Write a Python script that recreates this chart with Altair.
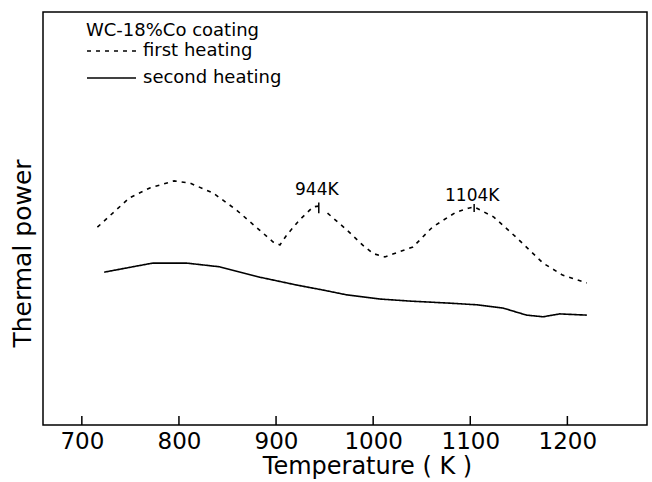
import altair as alt
import pandas as pd

# ---- data ----
first_T = [716, 749, 770, 795, 811, 835, 859, 883, 897, 904, 911, 924, 938, 944,
           953, 973, 989, 1000, 1012, 1041, 1061, 1085, 1098, 1104, 1124, 1148, 1175, 1195, 1220]
first_v = [47.9, 55.0, 57.4, 59.1, 58.6, 56.2, 52.1, 47.2, 44.3, 43.6, 46.0, 49.6, 52.8, 53.0,
           51.3, 47.2, 43.6, 41.5, 40.7, 43.1, 47.9, 51.5, 52.5, 52.8, 50.4, 45.3, 39.2, 36.3, 34.4]
first_seg = ["a"] * 14 + ["b"] * 15

second_T = [723, 750, 773, 808, 842, 883, 921, 950, 973, 1007, 1038, 1079, 1107, 1134, 1158, 1175, 1192, 1220]
second_v = [37.0, 38.2, 39.2, 39.2, 38.3, 35.8, 33.9, 32.6, 31.5, 30.5, 30.0, 29.5, 29.1, 28.3, 26.6, 26.2, 26.9, 26.6]

series_names = ["first heating", "second heating"]
tick_values = [700, 800, 900, 1000, 1100, 1200]

peak_T = [944, 1104]
peak_lo = [51.3, 51.6]
peak_hi = [53.9, 53.5]
peak_labels = ["944K", "1104K"]
label_T = [942, 1102]
label_v = [56.9, 55.4]

FONT = "DejaVu Sans"

lines_df = pd.DataFrame({
    "T": first_T + second_T,
    "v": first_v + second_v,
    "series": [series_names[0]] * len(first_T) + [series_names[1]] * len(second_T),
    "seg": first_seg + ["c"] * len(second_T),
})
peaks_df = pd.DataFrame({"T": peak_T, "lo": peak_lo, "hi": peak_hi,
                         "label": peak_labels, "lT": label_T, "lv": label_v})
ticks_df = pd.DataFrame({"T": tick_values})

H = 413
x_scale = alt.Scale(domain=[660, 1282], nice=False, zero=False)
y_scale = alt.Scale(domain=[0, 100], nice=False, zero=False)

x_enc = alt.X("T:Q", scale=x_scale, axis=alt.Axis(
    values=tick_values, ticks=False, domain=False, grid=False, format="d",
    labelFontSize=23, labelFont=FONT, labelColor="black", labelPadding=5,
    title="Temperature ( K )", titleFont=FONT, titleFontSize=24, titleFontWeight="normal",
    titleColor="black", titleX=324, titleY=48, titleBaseline="alphabetic"))
y_enc = alt.Y("v:Q", scale=y_scale, axis=alt.Axis(
    labels=False, ticks=False, domain=False, grid=False,
    title="Thermal power", titleFont=FONT, titleFontSize=25, titleFontWeight="normal",
    titleColor="black", titlePadding=8, titleY=241, titleAlign="center"))

lines = alt.Chart(lines_df).mark_line(color="black", strokeWidth=1.6).encode(
    x=x_enc,
    y=y_enc,
    detail="seg:N",
    strokeDash=alt.StrokeDash("series:N", scale=alt.Scale(domain=series_names, range=[[4, 5], [1, 0]]),
        legend=alt.Legend(title="WC-18%Co coating", orient="none", legendX=43, legendY=10,
                          padding=0, symbolType="stroke", symbolSize=2400,
                          symbolStrokeColor="black", symbolStrokeWidth=1.5,
                          labelFont=FONT, labelFontSize=18, labelColor="black", labelOffset=6,
                          titleFont=FONT, titleFontSize=18, titleFontWeight="normal",
                          titleColor="black", titlePadding=0, clipHeight=22, rowPadding=5)),
)

markers = alt.Chart(peaks_df).mark_rule(color="black", strokeWidth=1.5).encode(
    x="T:Q", y="lo:Q", y2="hi:Q")

labels = alt.Chart(peaks_df).mark_text(font=FONT, fontSize=17, color="black").encode(
    x="lT:Q", y="lv:Q", text="label:N")

ticks = alt.Chart(ticks_df).mark_rule(color="black", strokeWidth=1.5).encode(
    x="T:Q", y=alt.value(H), y2=alt.value(H - 9))

chart = alt.layer(lines, markers, labels, ticks).properties(
    width=604, height=H,
    autosize=alt.AutoSizeParams(type="none"),
    padding={"left": 43, "top": 12, "right": 5, "bottom": 57},
    background="white",
).configure_view(stroke="black", strokeWidth=1.5)

chart.save("out.html", embed_options={"renderer": "svg", "actions": False})
